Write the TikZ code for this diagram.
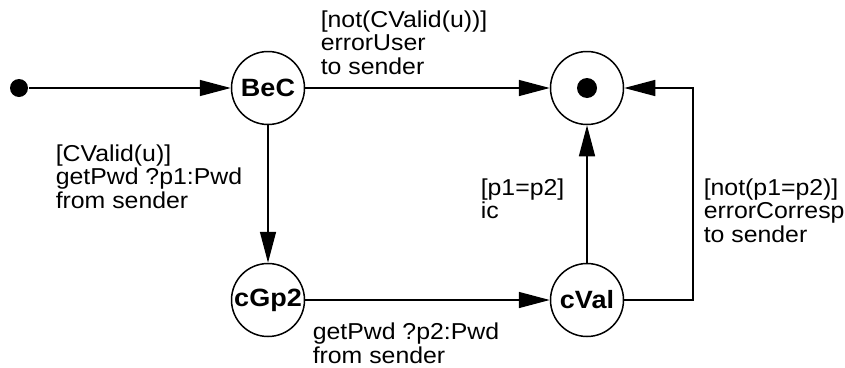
\documentclass[tikz,border=0pt]{standalone}
\usepackage{fontspec}
\setmainfont{Liberation Sans}[FakeStretch=1.08]
\usetikzlibrary{arrows.meta}
\begin{document}
\begin{tikzpicture}[x=1pt,y=-1pt,
  line width=1.5pt,
  state/.style={circle,draw,line width=1.5pt,minimum size=73pt,inner sep=0pt,
    font=\fontsize{25}{28}\selectfont\bfseries},
  lbl/.style={anchor=north west,inner sep=0pt,align=left,
    font=\fontsize{23}{23.2}\selectfont},
  arr/.style={-{Triangle[length=31pt,width=16pt]}}]
\useasboundingbox (0,0) rectangle (845,367);
\node[circle,fill,minimum size=18pt,inner sep=0pt] (start) at (19,88) {};
\node[state] (bec) at (268,88) {BeC};
\node[state] (cgp) at (268,300) {cGp2};
\node[state] (cval) at (587,300) {cVal};
\node[state] (fin) at (587,88) {};
\fill (fin.center) circle (10pt);
\coordinate (c1) at (693,300);
\coordinate (c2) at (693,88);
\draw[arr] (start) -- (bec);
\draw[arr] (bec) -- (fin);
\draw[arr] (bec) -- (cgp);
\draw[arr] (cgp) -- (cval);
\draw[arr] (cval) -- (fin);
\draw[arr] (cval.east) -- (c1) -- (c2) -- (fin.east);
\node[lbl] (l1) at (320,10.2) {[not(CValid(u))]\\errorUser\\to sender};
\node[lbl] (l2) at (55,144.2) {[CValid(u)]\\getPwd ?p1:Pwd\\from sender};
\node[lbl] (l3) at (480,178.2) {[p1=p2]\\ic};
\node[lbl] (l4) at (703,178.2) {[not(p1=p2)]\\errorCorresp\\to sender};
\node[lbl] (l5) at (312,322.5) {getPwd ?p2:Pwd\\from sender};
\end{tikzpicture}
\end{document}
